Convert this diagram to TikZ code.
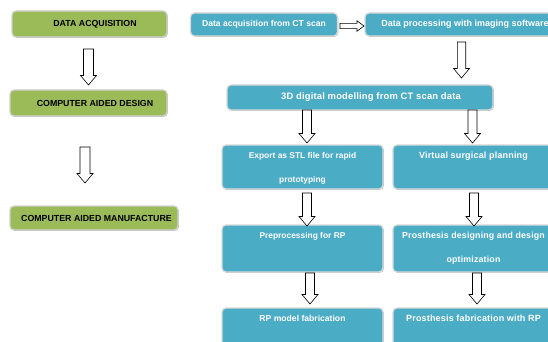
\documentclass[tikz,border=0pt]{standalone}
\usepackage{fontspec}
\usetikzlibrary{calc,shadows}
\setmainfont{Liberation Sans}
\newfontfamily\widefont[LetterSpace=2]{Liberation Sans}
\definecolor{boxgreen}{HTML}{9BBB59}
\definecolor{boxblue}{HTML}{4BACC6}
\newcommand\toptext[4]{\parbox[c][#1][t]{#2}{\centering\fontsize{#3}{24}\selectfont\rule{0pt}{13pt}#4}}
\tikzset{
  softshadow/.style={drop shadow={shadow xshift=0.8pt, shadow yshift=-0.8pt, opacity=0.25, fill=black}},
  gbox/.style={fill=boxgreen, draw=black!18, line width=1.3pt, rounded corners=4pt, softshadow,
    font=\bfseries\fontsize{8.8}{10}\selectfont, text=black, inner sep=0pt},
  bbox/.style={fill=boxblue, draw=black!15, line width=1.3pt, rounded corners=4pt, softshadow,
    font=\bfseries, text=white, inner sep=0pt},
  darrow/.style={draw=black, fill=white, line width=0.6pt, line join=miter,
    to path={let \p1=(\tikztostart), \p2=(\tikztotarget) in
      ({\x1-#1}, \y1) -- ({\x1+#1}, \y1) -- ({\x1+#1}, {\y2+9.5pt}) -- ({\x1+8pt}, {\y2+9.5pt})
      -- (\x1, \y2) -- ({\x1-8pt}, {\y2+9.5pt}) -- ({\x1-#1}, {\y2+9.5pt}) -- cycle}},
  darrow/.default=4.5pt,
  rarrow/.style={draw=black, fill=white, line width=0.6pt, line join=miter,
    to path={let \p1=(\tikztostart), \p2=(\tikztotarget) in
      (\x1, {\y1+2.6pt}) -- ({\x2-7pt}, {\y1+2.6pt}) -- ({\x2-7pt}, {\y1+5.2pt}) -- (\x2, \y1)
      -- ({\x2-7pt}, {\y1-5.2pt}) -- ({\x2-7pt}, {\y1-2.6pt}) -- (\x1, {\y1-2.6pt}) -- cycle}}
}
\begin{document}
\begin{tikzpicture}[x=1pt, y=-1pt]
\clip (0,0) rectangle (548,342);
\fill[white] (0,0) rectangle (548,342);

% green column
\node[gbox, minimum width=155pt, minimum height=26pt] (ga) at (89.5,24) {\hspace*{11pt}DATA ACQUISITION};
\node[gbox, minimum width=157pt, minimum height=26pt] (gb) at (88.5,103) {\hspace*{13pt}COMPUTER AIDED DESIGN};
\node[gbox, minimum width=168pt, minimum height=24pt] (gc) at (94,218) {\hspace*{5pt}COMPUTER AIDED MANUFACTURE};

% blue boxes
\node[bbox, minimum width=147pt, minimum height=23pt, font=\bfseries\fontsize{8.6}{10}\selectfont] (b1) at (264,24.5) {Data acquisition from CT scan};
\node[bbox, minimum width=200pt, minimum height=23pt, font=\bfseries\fontsize{9}{10}\selectfont] (b2) at (465,24.5) {Data processing with imaging software};
\node[bbox, minimum width=266pt, minimum height=25pt, font=\bfseries\widefont\fontsize{9.4}{10}\selectfont] (b3) at (360,97.5) {\hspace*{22pt}3D digital modelling from CT scan data};
\node[bbox] (b4) at (302.5,167) {\toptext{44pt}{161pt}{8.4}{Export as STL file for rapid\\prototyping}};
\node[bbox] (b5) at (473.5,167) {\toptext{44pt}{161pt}{9}{\widefont Virtual surgical planning}};
\node[bbox] (b6) at (302.5,248.5) {\toptext{47pt}{161pt}{8.4}{Preprocessing for RP}};
\node[bbox] (b7) at (473.5,248.5) {\toptext{47pt}{161pt}{8.8}{\widefont Prosthesis designing and design\\optimization}};
\node[bbox] (b8) at (302.5,331) {\toptext{46pt}{161pt}{8.6}{RP model fabrication}};
\node[bbox] (b9) at (473.5,331) {\toptext{46pt}{161pt}{9}{\widefont Prosthesis fabrication with RP}};

% arrow end points
\coordinate (p1) at (88.5,49);  \coordinate (q1) at (88.5,85);
\coordinate (p2) at (85,147);   \coordinate (q2) at (85,183);
\coordinate (p3) at (340,26);   \coordinate (q3) at (364,26);
\coordinate (p4) at (461.5,42); \coordinate (q4) at (461.5,78);
\coordinate (p5) at (307,110);  \coordinate (q5) at (307,143);
\coordinate (p6) at (472.5,110);\coordinate (q6) at (472.5,143);
\coordinate (p7) at (307,193);  \coordinate (q7) at (307,226);
\coordinate (p8) at (474,193);  \coordinate (q8) at (474,226);
\coordinate (p9) at (310,273);  \coordinate (q9) at (310,304);
\coordinate (p10) at (477,273); \coordinate (q10) at (477,304);

\draw[darrow=5pt] (p1) to (q1);
\draw[darrow=5pt] (p2) to (q2);
\draw[rarrow] (p3) to (q3);
\draw[darrow=4.2pt] (p4) to (q4);
\draw[darrow] (p5) to (q5);
\draw[darrow] (p6) to (q6);
\draw[darrow] (p7) to (q7);
\draw[darrow] (p8) to (q8);
\draw[darrow] (p9) to (q9);
\draw[darrow] (p10) to (q10);
\end{tikzpicture}
\end{document}
